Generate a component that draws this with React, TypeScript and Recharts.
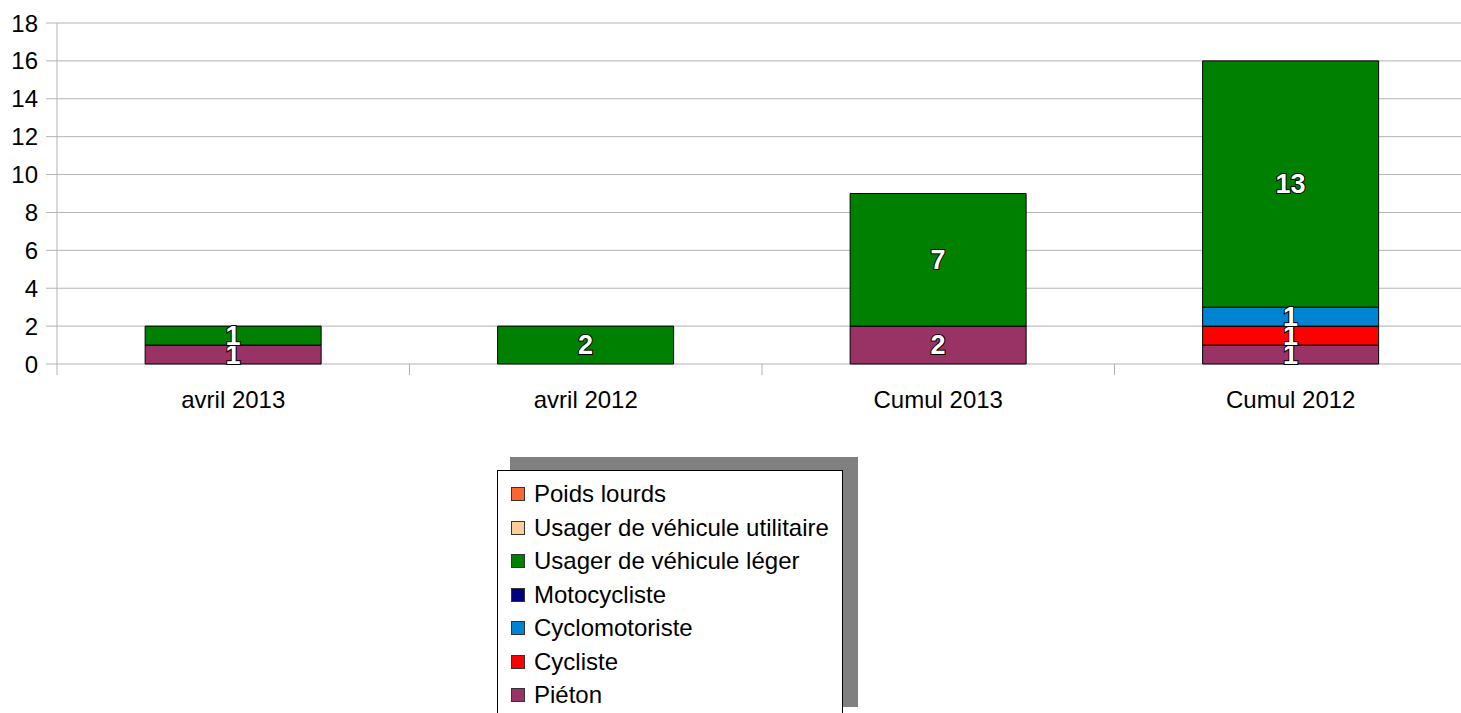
import React from 'react';
import { BarChart, Bar, XAxis, YAxis, CartesianGrid, LabelList } from 'recharts';

const categories = ['avril 2013', 'avril 2012', 'Cumul 2013', 'Cumul 2012'];

// stacking order, bottom first
const pieton = [1, 0, 2, 1];
const cycliste = [0, 0, 0, 1];
const cyclomotoriste = [0, 0, 0, 1];
const motocycliste = [0, 0, 0, 0];
const vehiculeLeger = [1, 2, 7, 13];
const vehiculeUtilitaire = [0, 0, 0, 0];
const poidsLourds = [0, 0, 0, 0];

const yTicks = [0, 2, 4, 6, 8, 10, 12, 14, 16, 18];
const boundaryTicks = [0, 1, 2, 3, 4];

const series = [
  { key: 'pieton', name: 'Piéton', color: '#993366', values: pieton },
  { key: 'cycliste', name: 'Cycliste', color: '#ff0000', values: cycliste },
  { key: 'cyclo', name: 'Cyclomotoriste', color: '#0084d1', values: cyclomotoriste },
  { key: 'moto', name: 'Motocycliste', color: '#000080', values: motocycliste },
  { key: 'leger', name: 'Usager de véhicule léger', color: '#008000', values: vehiculeLeger },
  { key: 'utilitaire', name: 'Usager de véhicule utilitaire', color: '#ffcc99', values: vehiculeUtilitaire },
  { key: 'lourds', name: 'Poids lourds', color: '#ff6633', values: poidsLourds },
];

const data = categories.map((cat, i) => {
  const row: Record<string, string | number> = { cat, pos: i + 0.5 };
  series.forEach((s) => { row[s.key] = s.values[i]; });
  return row;
});

const FONT = '"Liberation Sans", Arial, sans-serif';
const GRID = '#b3b3b3';

const renderLabel = (props: any) => {
  const { x, y, width, height, value } = props;
  if (!value) return null;
  return (
    <text
      x={x + width / 2}
      y={y + height / 2}
      textAnchor="middle"
      dominantBaseline="central"
      fill="#ffffff"
      stroke="#000000"
      strokeWidth={2}
      paintOrder="stroke"
      fontFamily={FONT}
      fontWeight="bold"
      fontSize={27}
    >
      {value}
    </text>
  );
};

function LegendBox() {
  const items = [...series].reverse();
  return (
    <div style={{ position: 'absolute', left: 497, top: 457, width: 362, height: 270 }}>
      <div style={{ position: 'absolute', left: 13, top: 0, width: 348, height: 250, background: '#808080' }} />
      <div
        style={{
          position: 'absolute', left: 0, top: 13, width: 346, height: 260,
          background: '#ffffff', border: '1px solid #000000', boxSizing: 'border-box',
        }}
      >
        {items.map((s, i) => (
          <div
            key={s.key}
            style={{
              position: 'absolute', left: 13, top: 8 + i * 33.5, height: 30,
              display: 'flex', alignItems: 'center', whiteSpace: 'nowrap',
            }}
          >
            <span
              style={{
                display: 'inline-block', width: 12, height: 12, background: s.color,
                border: '1px solid #333333', marginRight: 9,
              }}
            />
            <span style={{ fontFamily: FONT, fontSize: 24, color: '#000000' }}>{s.name}</span>
          </div>
        ))}
      </div>
    </div>
  );
}

export default function App() {
  return (
    <div style={{ position: 'absolute', left: 0, top: 0, width: 1461, height: 713, overflow: 'hidden', background: '#ffffff' }}>
      <BarChart
        width={1470}
        height={713}
        data={data}
        margin={{ top: 23, right: 3, bottom: 308, left: 0 }}
        barCategoryGap="25%"
      >
        <CartesianGrid vertical={false} stroke={GRID} />
        {/* boundary tick marks between categories */}
        <XAxis
          type="number"
          dataKey="pos"
          domain={[0, 4]}
          ticks={boundaryTicks}
          interval={0}
          allowDataOverflow
          tickFormatter={() => ''}
          axisLine={false}
          tickLine={{ stroke: GRID }}
          tickSize={11}
          height={11}
        />
        <XAxis
          xAxisId="cat"
          dataKey="cat"
          axisLine={false}
          tickLine={false}
          tickSize={0}
          tickMargin={16}
          height={30}
          tick={{ fill: '#000000', fontSize: 24, fontFamily: FONT }}
        />
        <YAxis
          domain={[0, 18]}
          ticks={yTicks}
          width={57}
          axisLine={{ stroke: GRID }}
          tickLine={{ stroke: GRID }}
          tickSize={11}
          tickMargin={8}
          tick={{ fill: '#000000', fontSize: 24, fontFamily: FONT }}
        />
        {series.map((s) => (
          <Bar
            key={s.key}
            xAxisId="cat"
            dataKey={s.key}
            name={s.name}
            stackId="a"
            fill={s.color}
            stroke="#000000"
            strokeWidth={1}
            isAnimationActive={false}
          >
            <LabelList dataKey={s.key} content={renderLabel} />
          </Bar>
        ))}
      </BarChart>
      <LegendBox />
    </div>
  );
}
